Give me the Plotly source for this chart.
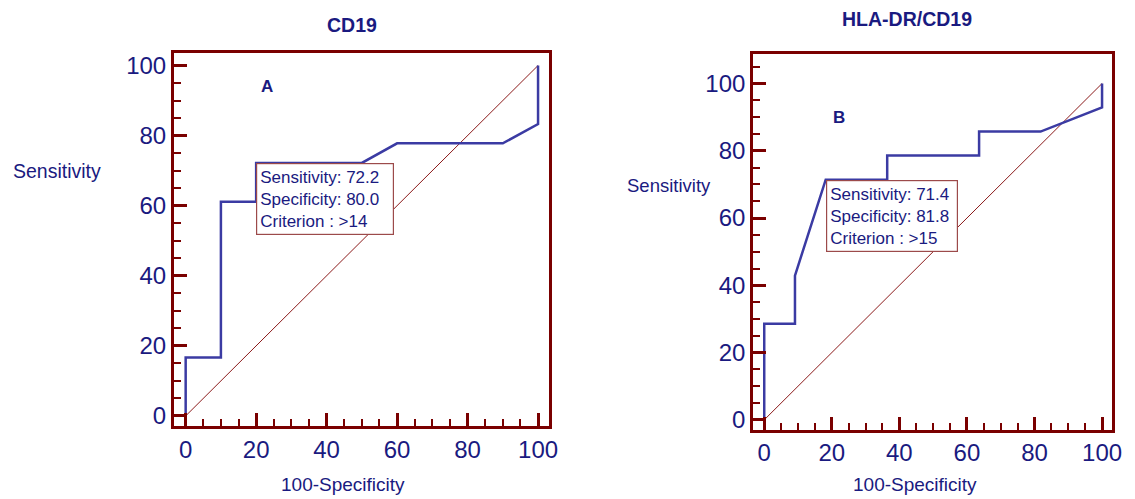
import plotly.graph_objects as go

# ROC curve for CD19 (x = 100 - specificity, y = sensitivity)
cd19_fpr = [0, 0, 10, 10, 20, 20, 50, 60, 90, 100, 100]
cd19_sens = [0, 16.7, 16.7, 61.1, 61.1, 72.2, 72.2, 77.8, 77.8, 83.3, 100]
cd19_cut = {"sens": 72.2, "spec": 80.0, "crit": ">14"}

# ROC curve for HLA-DR/CD19
hla_fpr = [0, 0, 9.1, 9.1, 18.2, 36.4, 36.4, 63.6, 63.6, 81.8, 100, 100]
hla_sens = [0, 28.6, 28.6, 42.9, 71.4, 71.4, 78.6, 78.6, 85.7, 85.7, 92.9, 100]
hla_cut = {"sens": 71.4, "spec": 81.8, "crit": ">15"}

ref_line = [0, 100]
tick_vals = [0, 20, 40, 60, 80, 100]

# figure size in px; the page adds a few px below the plot, so the figure
# is kept slightly shorter than the window to avoid any page scaling
W, H = 1135, 495
FONT = "Liberation Sans, Arial, sans-serif"
NAVY = "#1a1a80"
MAROON = "#7a0000"
CURVE = "#3b3ba3"
DIAG = "#8b1a1a"


def fx(px):
    return px / W


def fy(py):
    return 1 - py / H


fig = go.Figure()

panels = [
    dict(fpr=cd19_fpr, sens=cd19_sens, cut=cd19_cut, xa="x", ya="y",
         xdom=[fx(175.3), fx(553.5)], ydom=[fy(428.7), fy(52.3)],
         xr=[-3.38, 103.0], yr=[-2.94, 103.6],
         title="CD19", tx=355, ty=24, letter="A", lx=23, ly=94,
         sx=11, sy=171, ssize=19.5, axt_x=346, axt_y=487),
    dict(fpr=hla_fpr, sens=hla_sens, cut=hla_cut, xa="x2", ya="y2",
         xdom=[fx(759.6), fx(1121.4)], ydom=[fy(432.4), fy(53)],
         xr=[-3.35, 102.8], yr=[-2.98, 108.9],
         title="HLA-DR/CD19", tx=915, ty=18, letter="B", lx=22.2, ly=89.8,
         sx=631, sy=186, ssize=18.5, axt_x=923, axt_y=487),
]

annotations = []
for i, p in enumerate(panels):
    fig.add_trace(go.Scatter(x=ref_line, y=ref_line, mode="lines",
                             line=dict(color=DIAG, width=1),
                             xaxis=p["xa"], yaxis=p["ya"], showlegend=False))
    fig.add_trace(go.Scatter(x=p["fpr"], y=p["sens"], mode="lines",
                             line=dict(color=CURVE, width=2.5),
                             xaxis=p["xa"], yaxis=p["ya"], showlegend=False))

    sfx = "" if i == 0 else str(i + 1)
    axis_common = dict(showgrid=False, zeroline=False, showline=True,
                       linecolor=MAROON, linewidth=2.5, mirror=True,
                       ticks="inside", ticklen=13, tickwidth=2.5,
                       tickcolor=MAROON, tickvals=tick_vals,
                       tickfont=dict(family=FONT, size=24, color=NAVY),
                       minor=dict(ticks="inside", ticklen=7, tickwidth=2,
                                  tickcolor=MAROON, tick0=0, dtick=5))
    fig.layout["xaxis" + sfx] = dict(axis_common, domain=p["xdom"],
                                     range=p["xr"], anchor="y" + sfx)
    fig.layout["yaxis" + sfx] = dict(axis_common, domain=p["ydom"],
                                     range=p["yr"], anchor="x" + sfx)

    cut = p["cut"]
    box_text = (f"Sensitivity: {cut['sens']:.1f}<br>"
                f"Specificity: {cut['spec']:.1f}<br>"
                f"Criterion : {cut['crit'].replace('>', '&gt;')}")
    annotations += [
        dict(text=box_text, x=100 - cut["spec"], y=cut["sens"],
             xref=p["xa"], yref=p["ya"], xanchor="left", yanchor="top",
             align="left", showarrow=False, bgcolor="white",
             width=130 if i == 0 else 124, height=64,
             bordercolor="#9c4a4a", borderwidth=1.2, borderpad=3,
             font=dict(family=FONT, size=17, color=NAVY)),
        dict(text=f"<b>{p['title']}</b>", x=fx(p["tx"]), y=fy(p["ty"]),
             xref="paper", yref="paper", xanchor="center", yanchor="middle",
             showarrow=False, font=dict(family=FONT, size=19.5, color=NAVY)),
        dict(text=f"<b>{p['letter']}</b>", x=p["lx"], y=p["ly"],
             xref=p["xa"], yref=p["ya"], xanchor="center", yanchor="middle",
             showarrow=False, font=dict(family=FONT, size=17, color=NAVY)),
        dict(text="Sensitivity", x=fx(p["sx"]), y=fy(p["sy"]),
             xref="paper", yref="paper", xanchor="left", yanchor="middle",
             showarrow=False, font=dict(family=FONT, size=p["ssize"], color=NAVY)),
        dict(text="100-Specificity", x=fx(p["axt_x"]), y=fy(p["axt_y"]),
             xref="paper", yref="paper", xanchor="center", yanchor="middle",
             showarrow=False, font=dict(family=FONT, size=19, color=NAVY)),
    ]

fig.update_layout(width=W, height=H, margin=dict(l=0, r=0, t=0, b=0),
                  paper_bgcolor="white", plot_bgcolor="white",
                  annotations=annotations, showlegend=False)

fig.write_html("out.html")
